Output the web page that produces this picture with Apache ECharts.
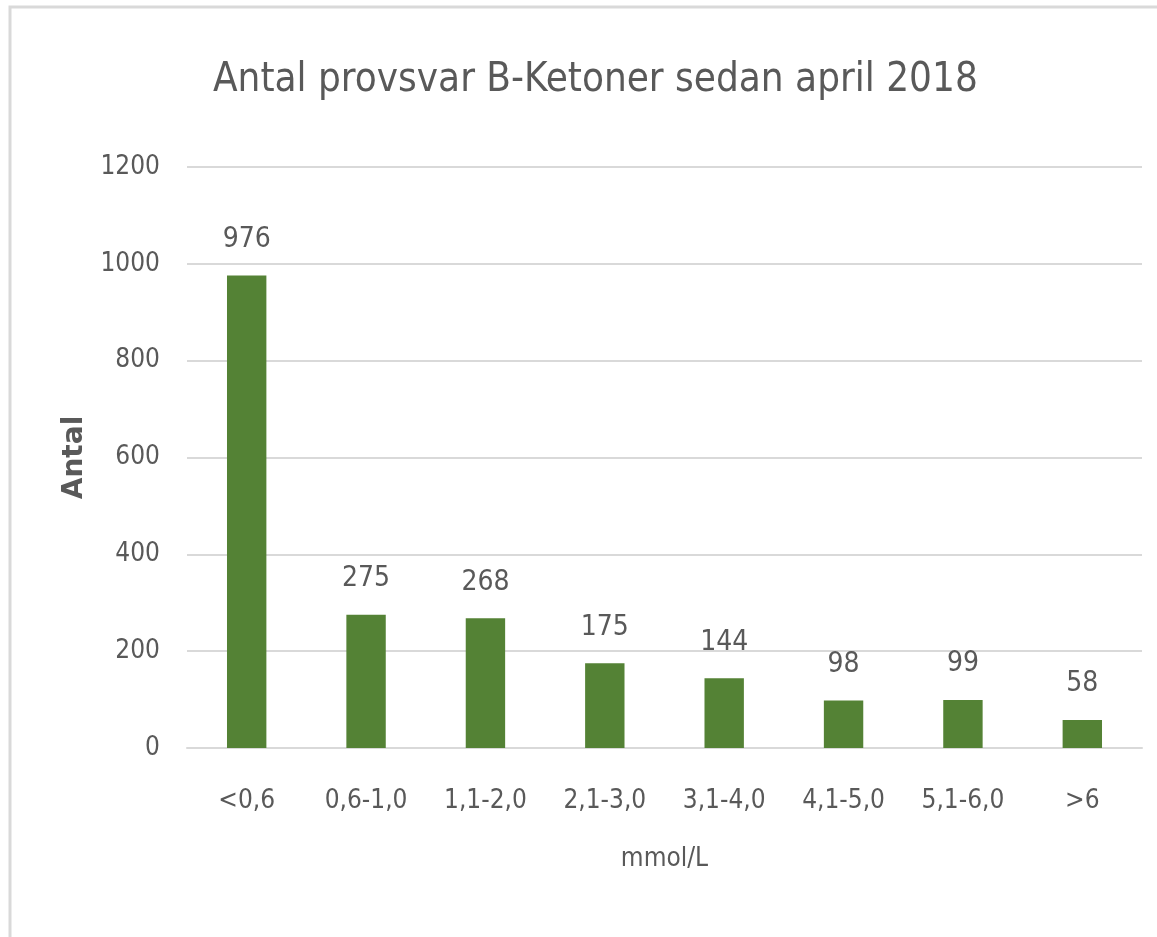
<!DOCTYPE html>
<html>
<head>
<meta charset="utf-8">
<script src="https://cdn.jsdelivr.net/npm/echarts@6/dist/echarts.min.js"></script>
<style>
  html, body { margin: 0; padding: 0; background: #fff; }
  #chart { width: 1157px; height: 937px; }
</style>
</head>
<body>
<div id="chart"></div>
<script>
// data
const categories = ["<0,6", "0,6-1,0", "1,1-2,0", "2,1-3,0", "3,1-4,0", "4,1-5,0", "5,1-6,0", ">6"];
const antal = [976, 275, 268, 175, 144, 98, 99, 58];
const yTicks = [0, 200, 400, 600, 800, 1000, 1200];

const font = '"Liberation Sans Narrow", "DejaVu Sans Condensed", "Open Sans", sans-serif';
const grey = "#595959";

let myChart = echarts.init(document.getElementById("chart"));
myChart.setOption({
  animation: false,
  title: {
    text: "Antal provsvar B-Ketoner sedan april 2018",
    left: 208,
    top: 56,
    textStyle: { fontFamily: font, fontSize: 40, fontWeight: "normal", color: grey },
  },
  graphic: [{
    type: "rect",
    shape: { x: 10, y: 7, width: 1160, height: 950 },
    style: { fill: "none", stroke: "#d9d9d9", lineWidth: 3 },
    silent: true,
  }],
  grid: { left: 187, right: 15, top: 167, bottom: 189 },
  xAxis: {
    type: "category",
    data: categories,
    name: "mmol/L",
    nameLocation: "middle",
    nameGap: 98,
    nameTextStyle: { fontFamily: font, fontSize: 26, color: grey },
    axisLine: { lineStyle: { color: "#d9d9d9", width: 2 } },
    axisTick: { show: false },
    axisLabel: { margin: 40, fontFamily: font, fontSize: 26, color: grey },
  },
  yAxis: {
    type: "value",
    min: yTicks[0],
    max: yTicks[yTicks.length - 1],
    interval: 200,
    name: "Antal",
    nameLocation: "middle",
    nameRotate: 90,
    nameGap: 98,
    nameTextStyle: { fontFamily: "DejaVu Sans, sans-serif", fontSize: 28, fontWeight: "bold", color: grey },
    axisLabel: {
      margin: 27,
      fontFamily: font,
      fontSize: 26,
      color: grey,
      formatter: (v) => String(v),
    },
    splitLine: { lineStyle: { color: "#d9d9d9", width: 2 } },
  },
  series: [{
    type: "bar",
    data: antal,
    barWidth: "33%",
    itemStyle: { color: "#548235" },
    label: {
      show: true,
      position: "top",
      distance: 22,
      fontFamily: font,
      fontSize: 28,
      color: grey,
    },
  }],
});
</script>
</body>
</html>
